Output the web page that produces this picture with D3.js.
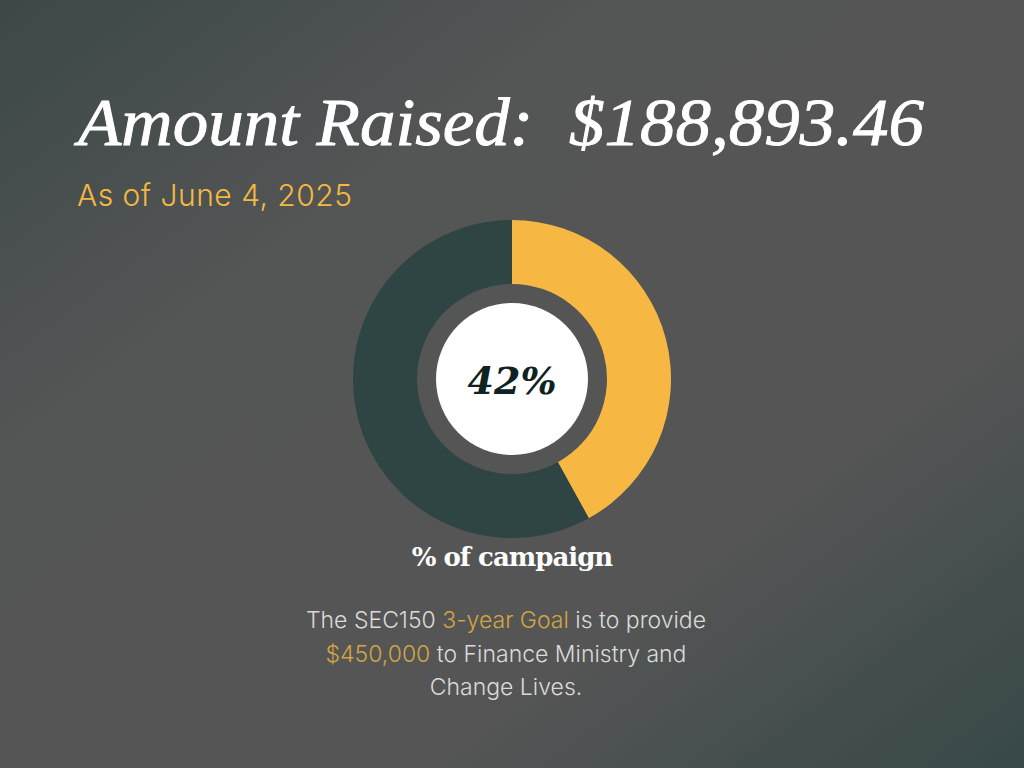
<!DOCTYPE html>
<html>
<head>
<meta charset="utf-8">
<script src="https://cdn.jsdelivr.net/npm/d3@7"></script>
<style>
html,body{margin:0;padding:0;background:#555;}
svg{display:block;}
</style>
</head>
<body>
<svg id="chart" width="1024" height="768"></svg>
<script>
// ---- data ----
const categories = ["Raised", "Remaining"];
const amountRaised = 188893.46;
const campaignGoal = 450000;
const seriesValues = [amountRaised, campaignGoal - amountRaised];
const sliceColors = ["#F6B843", "#2F4543"];
const titleText = "Amount Raised:  $188,893.46";
const subtitleText = "As of June 4, 2025";
const centerLabel = "42%";
const captionText = "% of campaign";
const noteLines = [
  [["The SEC150 ", false], ["3-year Goal", true], [" is to provide", false]],
  [["$450,000", true], [" to Finance Ministry and", false]],
  [["Change Lives.", false]]
];

const W = 1024, H = 768;
const svg = d3.select("#chart");
const defs = svg.append("defs");

// background gradient
const g1 = defs.append("linearGradient").attr("id","bg")
  .attr("x1","0").attr("y1","0").attr("x2","1").attr("y2","1");
g1.append("stop").attr("offset","0%").attr("stop-color","#3c4848");
g1.append("stop").attr("offset","30%").attr("stop-color","#545555");
g1.append("stop").attr("offset","70%").attr("stop-color","#555555");
g1.append("stop").attr("offset","100%").attr("stop-color","#374848");
svg.append("rect").attr("width",W).attr("height",H).attr("fill","url(#bg)");

// title
svg.append("text").attr("x",78).attr("y",145)
  .attr("font-family","'Liberation Serif', 'DejaVu Serif', serif")
  .attr("font-style","italic").attr("font-size",68)
  .attr("fill","#ffffff").attr("stroke","#ffffff").attr("stroke-width",0.9)
  .attr("textLength",846).attr("lengthAdjust","spacingAndGlyphs")
  .style("white-space","pre")
  .text(titleText);

svg.append("text").attr("x",77).attr("y",206)
  .attr("font-family","Inter, Roboto, sans-serif")
  .attr("font-weight",300).attr("font-size",30)
  .attr("fill","#F5B942")
  .attr("textLength",275).attr("lengthAdjust","spacing")
  .text(subtitleText);

// donut
const cx = 512, cy = 379;
const pie = d3.pie().sort(null).value(d => d);
const arc = d3.arc().innerRadius(95).outerRadius(159);
const gD = svg.append("g").attr("transform",`translate(${cx},${cy})`);
gD.selectAll("path").data(pie(seriesValues)).join("path")
  .attr("d",arc).attr("fill",(d,i)=>sliceColors[i])
  .append("title").text((d,i)=>categories[i]);
gD.append("circle").attr("r",76).attr("fill","#ffffff");
gD.append("text").attr("x",0).attr("y",15)
  .attr("text-anchor","middle")
  .attr("font-family","'DejaVu Serif', 'Liberation Serif', serif")
  .attr("font-style","italic").attr("font-weight","bold")
  .attr("font-size",38).attr("fill","#0f2222")
  .text(centerLabel);

svg.append("text").attr("x",512).attr("y",566)
  .attr("text-anchor","middle")
  .attr("font-family","'DejaVu Serif', 'Liberation Serif', serif")
  .attr("font-weight","bold").attr("font-size",26)
  .attr("letter-spacing",-1)
  .attr("fill","#ffffff")
  .text(captionText);

// note
const note = svg.append("text").attr("text-anchor","middle")
  .attr("font-family","Inter, Roboto, sans-serif")
  .attr("font-weight",300).attr("font-size",23);
noteLines.forEach((line,i)=>{
  const t = note.append("tspan").attr("x",506).attr("y",628 + i*33.5);
  line.forEach(([s,hl])=>{
    t.append("tspan").attr("fill", hl ? "#D4A444" : "#DADADA").text(s);
  });
});
</script>
</body>
</html>
